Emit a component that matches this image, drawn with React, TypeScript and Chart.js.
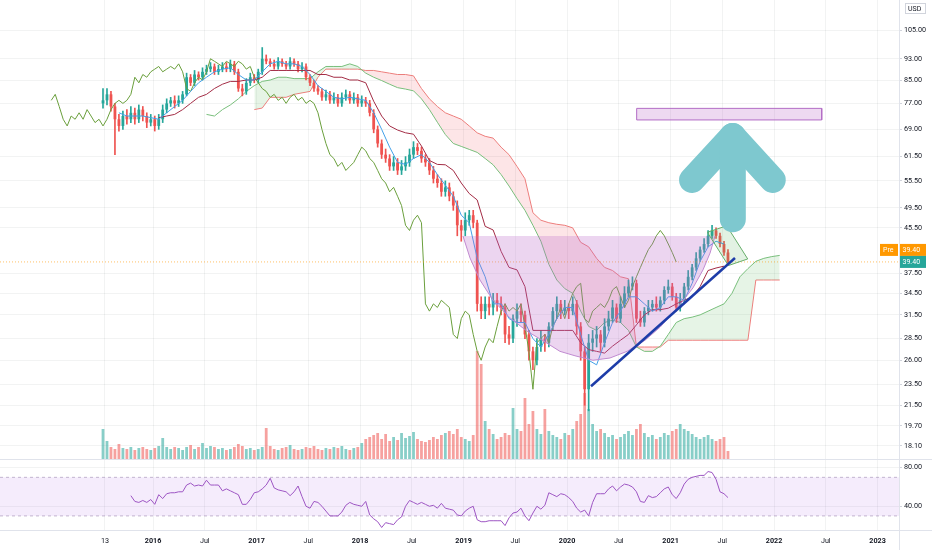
import React, { useEffect, useRef } from 'react';
import { Chart, registerables } from 'chart.js';

Chart.register(...registerables);

// ---- time axis (decimal years) ----
const START_YEAR = 2015.5169; // first bi-weekly candle
const STEP = 1 / 26; // two weeks
const X_MIN = 2014.5217;
const X_MAX = 2023.2077;
const X_TICKS = [2015.536, 2016, 2016.5, 2017, 2017.5, 2018, 2018.5, 2019, 2019.5, 2020, 2020.5, 2021, 2021.5, 2022, 2022.5, 2023];
const X_LABELS = ['13', '2016', 'Jul', '2017', 'Jul', '2018', 'Jul', '2019', 'Jul', '2020', 'Jul', '2021', 'Jul', '2022', 'Jul', '2023'];

// ---- price axis ----
const Y_MIN = 17.13;
const Y_MAX = 119.2;
const Y_TICKS = [18.1, 19.7, 21.5, 23.5, 26, 28.5, 31.5, 34.5, 37.5, 45.5, 49.5, 55.5, 61.5, 69, 77, 85, 93, 105];
const RSI_TICKS = [80, 40];
const LAST_PRICE = 39.4;
const PRE_PRICE = 39.4;

// ---- bi-weekly candles ----
const OPEN = [77, 78, 80, 76, 72, 70, 73, 72, 74, 72,
  75, 73, 71, 72, 70, 72, 75, 77, 78, 77,
  78, 80, 86, 84, 87, 86, 88, 89, 90, 88,
  89, 90, 89, 91, 88, 82, 81, 84, 86, 85,
  88, 93, 92, 91, 90, 92, 91, 90, 92, 91,
  89, 90, 86, 84, 82, 81, 79, 80, 78, 79,
  77, 79, 80, 78, 79, 77, 78, 77, 74, 69,
  65, 62, 61, 59, 60, 58, 59, 60, 62, 64,
  63, 61, 60, 58, 56, 55, 53, 54, 52, 50,
  46, 45, 47, 48, 46.5, 33, 32, 33, 32.5, 33.5,
  33, 32.5, 29, 28.5, 31, 32, 31.5, 29, 27, 26,
  27.5, 28.5, 28, 30, 32, 33, 32, 32.5, 32, 33,
  30, 27, 23, 28, 28.5, 29, 28, 30, 31, 32.5,
  31, 33, 34.5, 35.5, 36, 31, 30.5, 32, 32.5, 33,
  32.5, 33.5, 35, 35.5, 34, 32.5, 33.5, 35.5, 37, 38.5,
  40, 41.5, 42.5, 44, 45, 44, 42.5, 41];
const HIGH = [82, 82, 81, 77, 73.5, 74.5, 75, 76, 75.5, 76.5,
  76, 74, 73.5, 73, 73.5, 76.5, 78.5, 79, 79.5, 79.5,
  81, 87.5, 87, 88.5, 88, 89.5, 90.5, 91.5, 91, 90.5,
  91.5, 91.5, 92.5, 92, 89, 83.5, 85.5, 87.5, 87, 89,
  97.5, 94.5, 93, 92.5, 93.5, 93, 92, 93.5, 93, 92,
  91.5, 91, 87, 85, 83, 82, 81.5, 81, 80.5, 80,
  80.5, 81.5, 81, 80.5, 80, 79.5, 79, 78, 75, 70,
  66, 63.5, 62, 61.5, 61, 60.5, 61.5, 63.5, 65.5, 65,
  64, 62, 61, 59, 57, 56, 55.5, 55, 53, 51,
  47, 48.5, 49, 49, 47, 34, 34, 34, 34.5, 34.5,
  34, 33, 30, 31.5, 33, 33, 32, 29.5, 27.5, 28.5,
  29.5, 29, 30.5, 32.5, 34, 33.5, 33.5, 33, 34, 33.5,
  30.5, 27.5, 29, 29.5, 30, 29.5, 31, 32, 33.5, 33,
  34, 35.5, 36.5, 37, 36.5, 32, 32.5, 33.5, 33.5, 34,
  34, 35.5, 36.5, 36, 34.5, 34.5, 36, 38, 39, 41,
  42, 43.5, 45, 46, 45.5, 44.5, 43, 41.5];
const LOW = [75.5, 76.5, 74.5, 62, 68.5, 69, 70.5, 71, 70.5, 71,
  71.5, 69.5, 70, 68.5, 69, 71, 74, 76, 75.5, 76,
  77, 79.5, 83, 83, 85, 85, 87, 88, 87, 87,
  88, 88, 88, 87, 81, 79.5, 80, 83, 84, 84,
  87, 91, 90, 89, 89, 90, 89, 89, 90, 88,
  88, 85, 83, 81, 80, 78, 78, 77, 77, 76,
  76, 78, 77, 77, 76, 76, 76, 73, 68, 64,
  61, 60, 58, 58, 57, 57, 58, 59, 61, 62,
  60, 59, 57, 55, 54, 52, 52, 51, 49, 44,
  43, 44, 46, 45.5, 32, 31, 31, 31.5, 31.5, 32,
  31.5, 28, 27.8, 28, 30, 30.5, 28.5, 26, 25, 25.5,
  27, 27, 27.5, 29.5, 31, 31, 31.5, 31, 31.5, 29,
  26, 21.5, 21, 27, 27.5, 27, 27.5, 29.5, 30.5, 30.5,
  30.5, 32.5, 34, 35, 30.5, 30, 30, 31.5, 32, 32,
  32, 33, 34.5, 33.5, 32, 32, 33, 35, 36.5, 38,
  39.5, 41, 42, 43.5, 43.5, 42, 40.5, 39];
const CLOSE = [78, 80, 76, 72, 70, 73, 72, 74, 72, 75,
  73, 71, 72, 70, 72, 75, 77, 78, 77, 78,
  80, 86, 84, 87, 86, 88, 89, 90, 88, 89,
  90, 89, 91, 88, 82, 81, 84, 86, 85, 88,
  93, 92, 91, 90, 92, 91, 90, 92, 91, 89,
  90, 86, 84, 82, 81, 79, 80, 78, 79, 77,
  79, 80, 78, 79, 77, 78, 77, 74, 69, 65,
  62, 61, 59, 60, 58, 59, 60, 62, 64, 63,
  61, 60, 58, 56, 55, 53, 54, 52, 50, 46,
  45, 47, 48, 46.5, 33, 32, 33, 32.5, 33.5, 33,
  32.5, 29, 28.5, 31, 32, 31.5, 29, 27, 26, 27.5,
  28.5, 28, 30, 32, 33, 32, 32.5, 32, 33, 30,
  27, 23, 28, 28.5, 29, 28, 30, 31, 32.5, 31,
  33, 34.5, 35.5, 36, 31, 30.5, 32, 32.5, 33, 32.5,
  33.5, 35, 35.5, 34, 32.5, 33.5, 35.5, 37, 38.5, 40,
  41.5, 42.5, 44, 45, 44, 42.5, 41, 39.4];
const VOLUME = [30, 18, 12, 10, 15, 11, 10, 12, 9, 11,
  12, 10, 9, 11, 13, 21, 12, 10, 12, 11,
  9, 12, 14, 10, 12, 16, 11, 13, 12, 10,
  11, 9, 10, 12, 15, 13, 10, 11, 9, 10,
  12, 31, 13, 10, 9, 11, 12, 14, 10, 9,
  10, 12, 11, 13, 10, 9, 11, 10, 12, 11,
  13, 10, 9, 11, 12, 16, 20, 22, 24, 26,
  20, 25, 18, 22, 19, 26, 21, 23, 27, 20,
  18, 17, 19, 22, 20, 24, 26, 28, 25, 30,
  22, 20, 18, 24, 108, 95, 38, 30, 25, 20,
  22, 26, 24, 51, 30, 28, 61, 35, 48, 30,
  25, 50, 28, 24, 22, 20, 26, 24, 30, 38,
  45, 66, 50, 35, 28, 30, 26, 22, 24, 20,
  22, 25, 28, 24, 30, 35, 26, 22, 24, 20,
  22, 26, 24, 28, 30, 35, 30, 28, 25, 22,
  20, 22, 24, 20, 18, 20, 22, 8];
const VOLUME_AXIS_MAX = 459;

// ---- Ichimoku (every 4 weeks) ----
const TENKAN_START = 4;
const TENKAN = [74, 73, 73, 73, 72.5, 72, 74, 76, 78, 81,
  84, 86, 88, 89, 89.5, 87, 85, 85, 88, 91,
  92, 91, 91, 90, 87, 83, 81, 79, 78.5, 79,
  78.5, 78, 74, 69, 64, 60, 59.5, 61, 62, 60,
  57, 54.5, 52, 48, 46.5, 40, 37, 33, 33, 31,
  30.5, 30.5, 28.5, 27.5, 29, 31, 32.5, 32.5, 29, 26,
  25.5, 28, 30.5, 32, 34, 34, 33, 32, 32.5, 34,
  34, 33.5, 36, 39.5, 42, 43, 42.5];
const KIJUN_START = 14;
const KIJUN = [72.5, 73, 73.5, 75, 77, 79, 80, 82, 83.5, 84.5,
  84.5, 85, 85, 86, 88.5, 88.5, 88.5, 88.5, 88.5, 88.5,
  87, 87, 86, 86, 85, 85, 84, 77.7, 73, 70,
  68.8, 68, 67.6, 64.3, 60.5, 59.5, 59.4, 58, 55, 52.6,
  51.2, 45.8, 45.1, 41.2, 38.5, 38.1, 35.5, 29.5, 29.5, 29.5,
  29.5, 29.5, 29.5, 28, 27.2, 27, 26.8, 27.6, 28.3, 29,
  30.2, 31.5, 32.2, 32.2, 32.4, 33, 33.5, 34, 35.5, 38,
  38.4, 38.7];
const SPAN_A_START = 26;
const SPAN_A = [73.5, 73, 75, 76.5, 78.5, 81, 83, 84.5, 85, 86,
  86, 85.5, 85.5, 85.5, 88, 90, 90, 90, 91, 90,
  87.5, 86, 84.8, 83.5, 82.3, 81.8, 81.2, 78.5, 75, 71.1,
  67.5, 65, 64.2, 63.4, 62.6, 61, 59.4, 57, 54.3, 51.5,
  49, 46, 43, 39, 36.5, 35.2, 34.5, 32, 30, 29.5,
  30.5, 30.8, 30.5, 29.5, 27.5, 27, 27, 27.6, 29, 30.5,
  31, 31.2, 31.5, 32, 32.5, 33, 34.5, 37, 38.3, 39.5,
  40, 40.3, 40.5];
const SPAN_B_START = 38;
const SPAN_B = [75, 75.5, 79, 79, 79, 80, 80.5, 81, 86, 89,
  89, 89, 89, 89, 88.5, 88.5, 88, 87.5, 87, 87,
  86.5, 82, 78.5, 76, 74, 73, 72, 70, 68, 67,
  66.5, 64, 62, 59, 56, 48.5, 47, 46.5, 46.2, 46,
  45.5, 42.8, 42, 40, 38.5, 38, 37, 36.7, 27.5, 27.5,
  27.5, 27.5, 28.3, 28.3, 28.3, 28.3, 28.3, 28.3, 28.3, 28.3,
  28.3, 28.3, 28.3, 36.5, 36.5, 36.5, 36.5];
const LAG_SHIFT = 13; // 26 weeks back

// ---- RSI (bi-weekly) ----
const RSI_START = 7;
const RSI = [51, 45, 44, 46, 44, 47, 42, 52, 48, 53,
  54, 54, 55, 55, 62, 64, 61, 62, 61, 67,
  62, 62, 62, 56, 58, 56, 54, 52, 42, 42,
  47, 54, 55, 58, 62, 69, 59, 57, 56, 55,
  51, 55, 61, 50, 40, 38, 45, 44, 40, 35,
  30, 30, 30, 34, 41, 44, 42, 41, 40, 45,
  31, 27, 24, 18, 23, 22, 21, 26, 29, 40,
  46, 44, 42, 44, 42, 40, 41, 38, 43, 38,
  37, 36, 31, 30, 35, 38, 40, 26, 24, 24,
  25, 25, 25, 25, 20, 28, 33, 34, 38, 30,
  25, 33, 40, 37, 41, 54, 52, 50, 53, 52,
  49, 45, 38, 34, 36, 30, 44, 53, 53, 53,
  58, 61, 56, 60, 63, 62, 60, 55, 45, 44,
  51, 49, 50, 54, 58, 60, 52, 48, 54, 63,
  68, 70, 71, 72, 72, 76, 75, 68, 55, 53,
  49];
const RSI_MIN = 15.4;
const RSI_MAX = 89;
const RSI_UPPER = 70;
const RSI_LOWER = 30;

// ---- drawings ----
const CUP_X = [2018.995, 2019.063, 2019.159, 2019.285, 2019.449, 2019.614, 2019.787, 2019.932, 2020.077, 2020.251, 2020.415, 2020.58, 2020.754, 2020.899, 2021.063, 2021.217, 2021.314, 2021.382, 2021.43];
const CUP_Y = [43.95, 40.06, 36.5, 33.5, 31.1, 29.4, 28.1, 27.0, 26.5, 26.0, 26.25, 27.0, 28.3, 29.9, 32.4, 35.3, 38.1, 40.9, 43.95];
const TREND_X = [2020.232, 2021.623];
const TREND_Y = [23.3, 40.06];
const TARGET_X = [2020.673, 2022.461, 2022.461, 2020.673, 2020.673];
const TARGET_Y = [75.4, 75.4, 71.8, 71.8, 75.4];
const FLAG_X = [2021.356, 2021.543, 2021.746, 2021.559, 2021.356];
const FLAG_Y = [44.66, 45.9, 39.9, 38.8, 44.66];
const ARROW_HEAD_X = [2021.208, 2021.6, 2021.988];
const ARROW_HEAD_Y = [55.7, 67.1, 55.7];
const ARROW_SHAFT_X = [2021.6, 2021.602];
const ARROW_SHAFT_Y = [67.1, 47.2];

const UP = '#26a69a';
const DOWN = '#ef5350';
const FONT = 'Roboto';
const TEXT = '#131722';
const GRID = 'rgba(42,46,57,0.06)';

const xOf = (i: number) => START_YEAR + i * STEP;
const series = (vals: number[], start: number, step: number) => vals.map((v, k) => ({ x: xOf(start + k * step), y: v }));
const pts = (xs: number[], ys: number[]) => xs.map((x, k) => ({ x, y: ys[k] }));

const lineBase = { type: 'line', pointRadius: 0, pointHoverRadius: 0, borderWidth: 1, tension: 0, fill: false, xAxisID: 'x', yAxisID: 'y' };

const priceLabels = {
  id: 'priceLabels',
  afterDraw(chart: any) {
    const { ctx, chartArea } = chart;
    const y = chart.scales.y;
    const py = y.getPixelForValue(LAST_PRICE);
    const pPre = y.getPixelForValue(PRE_PRICE) - 12;
    const x0 = chartArea.right;
    ctx.save();
    ctx.font = `7px ${FONT}`;
    ctx.textBaseline = 'middle';
    ctx.fillStyle = '#ff9800';
    ctx.fillRect(x0 - 19, pPre - 6, 18, 12);
    ctx.fillRect(x0, pPre - 6, 27, 12);
    ctx.fillStyle = UP;
    ctx.fillRect(x0, py - 6, 27, 12);
    ctx.fillStyle = '#ffffff';
    ctx.fillText('Pre', x0 - 16, pPre + 0.5);
    ctx.fillText(PRE_PRICE.toFixed(2), x0 + 3.5, pPre + 0.5);
    ctx.fillText(LAST_PRICE.toFixed(2), x0 + 3.5, py + 0.5);
    ctx.strokeStyle = '#d1d4dc';
    ctx.lineWidth = 1;
    ctx.strokeRect(x0 + 6.5, 3.5, 20, 10);
    ctx.fillStyle = TEXT;
    ctx.fillText('USD', x0 + 9, 9);
    ctx.restore();
  },
};

function mainConfig(): any {
  const colors = CLOSE.map((c, i) => (c >= OPEN[i] ? UP : DOWN));
  const volColors = CLOSE.map((c, i) => (c >= OPEN[i] ? 'rgba(38,166,154,0.55)' : 'rgba(239,83,80,0.55)'));
  const datasets: any[] = [
    {
      type: 'bar', label: 'Volume', data: VOLUME.map((v, i) => ({ x: xOf(i), y: v })),
      backgroundColor: volColors, grouped: false, barPercentage: 0.7, categoryPercentage: 1,
      xAxisID: 'x', yAxisID: 'yv', order: 100,
    },
    { ...lineBase, label: 'Lead 2', data: series(SPAN_B, SPAN_B_START, 2), borderColor: '#f28080', order: 95 },
    {
      ...lineBase, label: 'Lead 1', data: series(SPAN_A, SPAN_A_START, 2), borderColor: '#79bf7c', order: 94,
      fill: { target: 1, above: 'rgba(76,175,80,0.14)', below: 'rgba(242,54,69,0.13)' },
    },
    {
      type: 'bar', label: 'Wicks', data: CLOSE.map((c, i) => ({ x: xOf(i), y: [LOW[i], HIGH[i]] })),
      backgroundColor: colors, grouped: false, barPercentage: 1, categoryPercentage: 1, maxBarThickness: 1,
      xAxisID: 'x', yAxisID: 'y', order: 80,
    },
    {
      type: 'bar', label: 'Bodies', data: CLOSE.map((c, i) => ({ x: xOf(i), y: [OPEN[i], c] })),
      backgroundColor: colors, grouped: false, barPercentage: 0.7, categoryPercentage: 1, minBarLength: 1,
      xAxisID: 'x', yAxisID: 'y', order: 79,
    },
    { ...lineBase, label: 'Lagging', data: CLOSE.map((c, i) => ({ x: xOf(i - LAG_SHIFT), y: c })), borderColor: '#6a9f3c', order: 60 },
    { ...lineBase, label: 'Base', data: series(KIJUN, KIJUN_START, 2), borderColor: '#a32c45', order: 59 },
    { ...lineBase, label: 'Conversion', data: series(TENKAN, TENKAN_START, 2), borderColor: '#42a0e8', order: 58 },
    {
      ...lineBase, label: 'Pre', data: [{ x: X_MIN, y: PRE_PRICE }, { x: X_MAX, y: PRE_PRICE }],
      borderColor: 'rgba(255,152,0,0.6)', borderDash: [1, 2], order: 50,
    },
    {
      ...lineBase, label: 'CupFill', data: pts([...CUP_X, CUP_X[0]], [...CUP_Y, CUP_Y[0]]), borderColor: 'rgba(0,0,0,0)', borderWidth: 0,
      backgroundColor: 'rgba(186,104,200,0.28)', fill: 'shape', order: 41,
    },
    { ...lineBase, label: 'Cup', data: pts(CUP_X, CUP_Y), borderColor: '#c08ad0', order: 40 },
    {
      ...lineBase, label: 'Target', data: pts(TARGET_X, TARGET_Y), borderColor: '#b36ec6',
      backgroundColor: 'rgba(186,104,200,0.25)', fill: 'shape', order: 30,
    },
    {
      ...lineBase, label: 'Flag', data: pts(FLAG_X, FLAG_Y), borderColor: '#66ad69',
      backgroundColor: 'rgba(76,175,80,0.16)', fill: 'shape', order: 29,
    },
    { ...lineBase, label: 'Trend', data: pts(TREND_X, TREND_Y), borderColor: '#1d3ca8', borderWidth: 2.5, order: 20 },
    {
      ...lineBase, label: 'ArrowHead', data: pts(ARROW_HEAD_X, ARROW_HEAD_Y), borderColor: '#7ec8cf',
      borderWidth: 26, borderCapStyle: 'round', borderJoinStyle: 'round', order: 10,
    },
    {
      ...lineBase, label: 'ArrowShaft', data: pts(ARROW_SHAFT_X, ARROW_SHAFT_Y), borderColor: '#7ec8cf',
      borderWidth: 26, borderCapStyle: 'round', borderJoinStyle: 'round', order: 9,
    },
  ];
  return {
    type: 'bar',
    data: { datasets },
    plugins: [priceLabels],
    options: {
      responsive: false,
      maintainAspectRatio: false,
      animation: false,
      layout: { padding: 0 },
      plugins: { legend: { display: false }, tooltip: { enabled: false } },
      events: [],
      scales: {
        x: {
          type: 'linear', min: X_MIN, max: X_MAX, offset: false,
          grid: { color: GRID, drawTicks: false, offset: false },
          border: { display: false },
          ticks: { display: false },
          afterBuildTicks: (s: any) => { s.ticks = X_TICKS.map((v) => ({ value: v })); },
          afterFit: (s: any) => { s.height = 0; s.paddingLeft = 0; s.paddingRight = 0; },
        },
        y: {
          type: 'logarithmic', position: 'right', min: Y_MIN, max: Y_MAX,
          grid: { color: GRID, drawTicks: true, tickLength: 3, tickColor: '#d1d4dc' },
          border: { display: false },
          ticks: {
            autoSkip: false, padding: 2, color: TEXT, font: { family: FONT, size: 7.2 },
            callback: (v: any) => Number(v).toFixed(2),
          },
          afterBuildTicks: (s: any) => { s.ticks = Y_TICKS.map((v) => ({ value: v })); },
          afterFit: (s: any) => { s.width = 33; s.paddingTop = 0; s.paddingBottom = 0; },
        },
        yv: {
          type: 'linear', display: false, min: 0, max: VOLUME_AXIS_MAX,
        },
      },
    },
  };
}

function rsiConfig(): any {
  const datasets: any[] = [
    {
      ...lineBase, label: 'Upper', data: [{ x: X_MIN, y: RSI_UPPER }, { x: X_MAX, y: RSI_UPPER }],
      borderColor: 'rgba(150,130,170,0.55)', borderDash: [3, 3],
      fill: { target: 1 }, backgroundColor: 'rgba(170,100,230,0.12)', order: 10,
    },
    {
      ...lineBase, label: 'Lower', data: [{ x: X_MIN, y: RSI_LOWER }, { x: X_MAX, y: RSI_LOWER }],
      borderColor: 'rgba(150,130,170,0.55)', borderDash: [3, 3], order: 9,
    },
    { ...lineBase, label: 'RSI', data: series(RSI, RSI_START, 1), borderColor: '#9d55c3', order: 1 },
  ];
  return {
    type: 'line',
    data: { datasets },
    options: {
      responsive: false,
      maintainAspectRatio: false,
      animation: false,
      layout: { padding: 0 },
      plugins: { legend: { display: false }, tooltip: { enabled: false } },
      events: [],
      scales: {
        x: {
          type: 'linear', min: X_MIN, max: X_MAX, offset: false,
          grid: { color: GRID, drawTicks: false },
          border: { display: false },
          ticks: {
            autoSkip: false, maxRotation: 0, padding: 7, color: TEXT,
            font: (c: any) => ({ family: FONT, size: 7.2, weight: /^\d{4}$/.test(X_LABELS[c.index] || '') ? 'bold' : 'normal' }),
            callback: (_v: any, i: number) => X_LABELS[i],
          },
          afterBuildTicks: (s: any) => { s.ticks = X_TICKS.map((v) => ({ value: v })); },
          afterFit: (s: any) => { s.height = 20; s.paddingLeft = 0; s.paddingRight = 0; },
        },
        y: {
          type: 'linear', position: 'right', min: RSI_MIN, max: RSI_MAX,
          grid: { color: GRID, drawTicks: true, tickLength: 3, tickColor: '#d1d4dc' },
          border: { display: false },
          ticks: {
            autoSkip: false, padding: 2, color: TEXT, font: { family: FONT, size: 7.2 },
            callback: (v: any) => Number(v).toFixed(2),
          },
          afterBuildTicks: (s: any) => { s.ticks = RSI_TICKS.map((v) => ({ value: v })); },
          afterFit: (s: any) => { s.width = 33; s.paddingTop = 0; s.paddingBottom = 0; },
        },
      },
    },
  };
}

export default function App() {
  const mainRef = useRef<HTMLCanvasElement>(null);
  const rsiRef = useRef<HTMLCanvasElement>(null);
  useEffect(() => {
    Chart.defaults.font.family = FONT;
    const main = new Chart(mainRef.current as HTMLCanvasElement, mainConfig());
    const rsi = new Chart(rsiRef.current as HTMLCanvasElement, rsiConfig());
    return () => {
      main.destroy();
      rsi.destroy();
    };
  }, []);
  return (
    <div style={{ position: 'absolute', left: 0, top: 0, width: 932, height: 550, background: '#ffffff', overflow: 'hidden' }}>
      <canvas ref={mainRef} width={932} height={459} style={{ position: 'absolute', left: 0, top: 0, width: 932, height: 459 }} />
      <canvas ref={rsiRef} width={932} height={91} style={{ position: 'absolute', left: 0, top: 459, width: 932, height: 91 }} />
      <div style={{ position: 'absolute', left: 0, top: 459, width: 932, height: 1, background: '#e0e3eb' }} />
      <div style={{ position: 'absolute', left: 0, top: 530, width: 932, height: 1, background: '#e0e3eb' }} />
      <div style={{ position: 'absolute', left: 899, top: 0, width: 1, height: 550, background: '#e0e3eb' }} />
    </div>
  );
}
